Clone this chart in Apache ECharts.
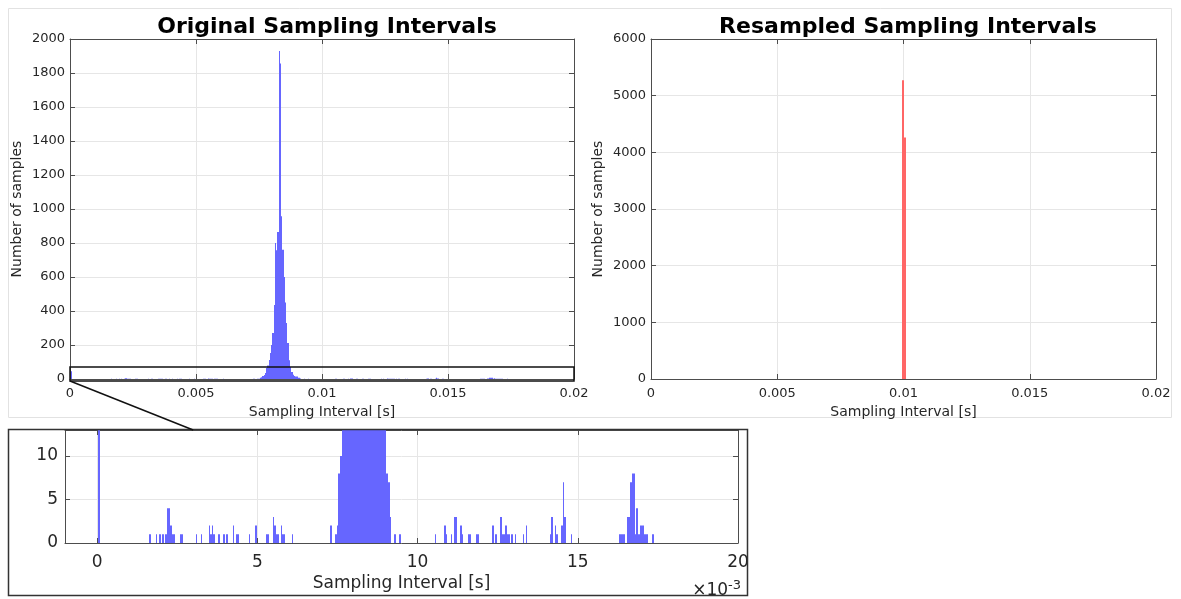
<!DOCTYPE html>
<html><head><meta charset="utf-8">
<script src="https://cdn.jsdelivr.net/npm/echarts@6/dist/echarts.min.js"></script>
<style>html,body{margin:0;padding:0;background:#fff}#c{width:1181px;height:599px}</style>
</head><body><div id="c"></div>
<script>
// ---------- data (sampling intervals in milliseconds) ----------
const origBinWidthMs = 0.05;
const origBinStartMs = [
  0.03,
  1.63, 1.83, 1.93, 2.03, 2.13, 2.18, 2.23, 2.28, 2.33, 2.38, 2.58, 2.63,
  3.08, 3.23, 3.48, 3.53, 3.58, 3.63, 3.78, 3.93, 4.03, 4.23, 4.33, 4.38,
  4.73, 4.93, 5.28, 5.33, 5.48, 5.53, 5.58, 5.63, 5.73, 5.78, 5.83, 6.08,
  7.28, 7.43, 7.48, 7.53, 7.58, 7.63, 7.68, 7.73, 7.78, 7.83, 7.88, 7.93,
  7.98, 8.03, 8.08, 8.13, 8.18, 8.23, 8.28, 8.33, 8.38, 8.43, 8.48, 8.53,
  8.58, 8.63, 8.68, 8.73, 8.78, 8.83, 8.88, 8.93, 8.98, 9.03, 9.08, 9.13,
  9.28, 9.43,
  10.53, 10.83, 10.88, 11.03, 11.13, 11.18, 11.33, 11.38, 11.58, 11.63,
  11.83, 11.88, 12.33, 12.43, 12.58, 12.63, 12.68, 12.73, 12.78, 12.83,
  12.93, 13.03, 13.28, 13.38,
  14.13, 14.18, 14.28, 14.33, 14.48, 14.53, 14.58, 14.78,
  16.28, 16.33, 16.38, 16.43, 16.53, 16.58, 16.63, 16.68, 16.73, 16.78,
  16.83, 16.88, 16.93, 16.98, 17.03, 17.08, 17.13, 17.33
];
const origCounts = [
  45,
  1, 1, 1, 1, 1, 4, 4, 2, 1, 1, 1, 1,
  1, 1, 2, 1, 2, 1, 1, 1, 1, 2, 1, 1,
  1, 2, 1, 1, 3, 2, 1, 1, 2, 1, 1, 1,
  2, 1, 2, 8, 10, 18, 24, 35, 65, 80, 112, 153,
  200, 270, 435, 800, 758, 864, 1929, 1856, 958, 760, 600, 450,
  330, 212, 110, 70, 41, 25, 18, 15, 14, 8, 7, 3,
  1, 1,
  1, 2, 1, 1, 3, 3, 2, 1, 1, 1,
  1, 1, 2, 1, 3, 1, 1, 2, 1, 1,
  1, 1, 1, 2,
  1, 3, 2, 1, 2, 7, 3, 1,
  1, 1, 1, 1, 3, 3, 7, 8, 8, 1,
  4, 1, 2, 2, 2, 1, 1, 1
];
const resBinEdgesMs = [9.93, 10.01, 10.10];
const resCounts = [5270, 4260];

const mainXTicksMs = [0, 5, 10, 15, 20];
const mainXTickLabels = ['0', '0.005', '0.01', '0.015', '0.02'];
const insetXTicks = [0, 5, 10, 15, 20];

// ---------- build ----------
const origBins = origBinStartMs.map((s, i) => [s, s + origBinWidthMs, origCounts[i]]);
const resBins = resCounts.map((c, i) => [resBinEdgesMs[i], resBinEdgesMs[i + 1], c]);

const FONT = 'DejaVu Sans';
const TXT = '#262626';
const AX = '#4d4d4d';
const GRID = '#e6e6e6';

function histItem(color) {
  return function (params, api) {
    const x0 = api.value(0), x1 = api.value(1), c = api.value(2);
    const tl = api.coord([x0, c]);
    const br = api.coord([x1, 0]);
    const cs = params.coordSys;
    const top = Math.max(tl[1], cs.y);
    let left = Math.round(Math.max(tl[0], cs.x));
    let right = Math.round(Math.min(br[0], cs.x + cs.width));
    if (right <= left) right = left + 1;
    if (br[1] <= top) return null;
    return { type: 'rect', shape: { x: left, y: top, width: right - left, height: br[1] - top },
             style: { fill: color } };
  };
}

function xMain(grid, pos, show) {
  return {
    type: 'value', gridIndex: grid, position: pos, min: 0, max: 20, interval: 5,
    axisLine: { show: true, onZero: false, lineStyle: { color: AX, width: 1 } },
    axisTick: { show: true, inside: true, length: 5, lineStyle: { color: AX } },
    axisLabel: { show: show, margin: 8, color: TXT, fontFamily: FONT, fontSize: 13,
                 formatter: v => { const k = mainXTicksMs.indexOf(v); return k >= 0 ? mainXTickLabels[k] : ''; } },
    splitLine: { show: show, lineStyle: { color: GRID } },
    name: show ? 'Sampling Interval [s]' : '', nameLocation: 'middle', nameGap: 25,
    nameTextStyle: { color: TXT, fontFamily: FONT, fontSize: 14 }
  };
}
function yMain(grid, pos, show, max, interval) {
  return {
    type: 'value', gridIndex: grid, position: pos, min: 0, max: max, interval: interval,
    axisLine: { show: true, onZero: false, lineStyle: { color: AX, width: 1 } },
    axisTick: { show: true, inside: true, length: 5, lineStyle: { color: AX } },
    axisLabel: { show: show, margin: 5, color: TXT, fontFamily: FONT, fontSize: 13,
                 formatter: v => String(v) },
    splitLine: { show: show, lineStyle: { color: GRID } },
    name: show ? 'Number of samples' : '', nameLocation: 'middle', nameGap: 46,
    nameTextStyle: { color: TXT, fontFamily: FONT, fontSize: 14 }
  };
}
function xInset(pos, show) {
  return {
    type: 'value', gridIndex: 2, position: pos, min: -1, max: 20,
    axisLine: { show: true, onZero: false, lineStyle: { color: AX, width: 1 } },
    axisTick: { show: true, inside: true, length: 5, customValues: insetXTicks, lineStyle: { color: AX } },
    axisLabel: { show: show, margin: 11, color: TXT, fontFamily: FONT, fontSize: 17, customValues: insetXTicks },
    splitLine: { show: show, lineStyle: { color: GRID } },
    name: show ? 'Sampling Interval [s]' : '', nameLocation: 'middle', nameGap: 32,
    nameTextStyle: { color: TXT, fontFamily: FONT, fontSize: 17 }
  };
}
function yInset(pos, show) {
  return {
    type: 'value', gridIndex: 2, position: pos, min: 0, max: 13, interval: 5,
    axisLine: { show: true, onZero: false, lineStyle: { color: AX, width: 1 } },
    axisTick: { show: true, inside: true, length: 5, lineStyle: { color: AX } },
    axisLabel: { show: show, margin: 7, color: TXT, fontFamily: FONT, fontSize: 17, showMaxLabel: false },
    splitLine: { show: show, lineStyle: { color: GRID } }
  };
}

const chart = echarts.init(document.getElementById('c'), null, { renderer: 'canvas' });
chart.setOption({
  animation: false,
  backgroundColor: '#ffffff',
  title: [
    { text: 'Original Sampling Intervals', left: 322, top: 11, textAlign: 'center',
      textStyle: { fontFamily: FONT, fontSize: 22, fontWeight: 'bold', color: '#000' } },
    { text: 'Resampled Sampling Intervals', left: 903, top: 11, textAlign: 'center',
      textStyle: { fontFamily: FONT, fontSize: 22, fontWeight: 'bold', color: '#000' } }
  ],
  grid: [
    { left: 70, top: 39, width: 504, height: 340, containLabel: false },
    { left: 651, top: 39, width: 505, height: 340, containLabel: false },
    { left: 65, top: 430, width: 673, height: 113, containLabel: false }
  ],
  xAxis: [
    xMain(0, 'bottom', true), xMain(0, 'top', false),
    xMain(1, 'bottom', true), xMain(1, 'top', false),
    xInset('bottom', true), xInset('top', false)
  ],
  yAxis: [
    yMain(0, 'left', true, 2000, 200), yMain(0, 'right', false, 2000, 200),
    yMain(1, 'left', true, 6000, 1000), yMain(1, 'right', false, 6000, 1000),
    yInset('left', true), yInset('right', false)
  ],
  series: [
    { type: 'custom', xAxisIndex: 0, yAxisIndex: 0, data: origBins, encode: { x: [0, 1], y: 2 },
      renderItem: histItem('#6666ff'), z: 3 },
    { type: 'custom', xAxisIndex: 2, yAxisIndex: 2, data: resBins, encode: { x: [0, 1], y: 2 },
      renderItem: histItem('#ff6666'), z: 3 },
    { type: 'custom', xAxisIndex: 4, yAxisIndex: 4, data: origBins, encode: { x: [0, 1], y: 2 },
      renderItem: histItem('#6666ff'), z: 3 }
  ]
});

// zoom box + connector, placed through the axes' own scales
const boxTL = chart.convertToPixel({ xAxisIndex: 0, yAxisIndex: 0 }, [0, 70]);
const boxBR = chart.convertToPixel({ xAxisIndex: 0, yAxisIndex: 0 }, [20, -12]);
const connEnd = chart.convertToPixel({ xAxisIndex: 4, yAxisIndex: 4 }, [3, 13]);

chart.setOption({
  graphic: [
    { type: 'rect', silent: true, z: 0, shape: { x: 8.5, y: 8.5, width: 1163, height: 409 },
      style: { fill: 'none', stroke: '#e2e2e2', lineWidth: 1 } },
    { type: 'rect', silent: true, z: 10, shape: { x: 8.5, y: 429.5, width: 739, height: 166 },
      style: { fill: 'none', stroke: '#333333', lineWidth: 1.5 } },
    { type: 'rect', silent: true, z: 10,
      shape: { x: boxTL[0], y: boxTL[1], width: boxBR[0] - boxTL[0], height: boxBR[1] - boxTL[1] },
      style: { fill: 'none', stroke: '#111111', lineWidth: 1.5 } },
    { type: 'line', silent: true, z: 10,
      shape: { x1: boxTL[0], y1: boxBR[1], x2: connEnd[0], y2: connEnd[1] },
      style: { stroke: '#111111', lineWidth: 1.5 } },
    { type: 'text', silent: true, z: 10, x: 741, y: 591,
      style: { text: '×10{sup|-3}', align: 'right', verticalAlign: 'middle', fill: TXT,
               font: '17px "DejaVu Sans"',
               rich: { sup: { fontSize: 13, fontFamily: FONT, fill: TXT, verticalAlign: 'bottom', padding: [0, 0, 10, 0] } } } }
  ]
});
</script>
</body></html>
